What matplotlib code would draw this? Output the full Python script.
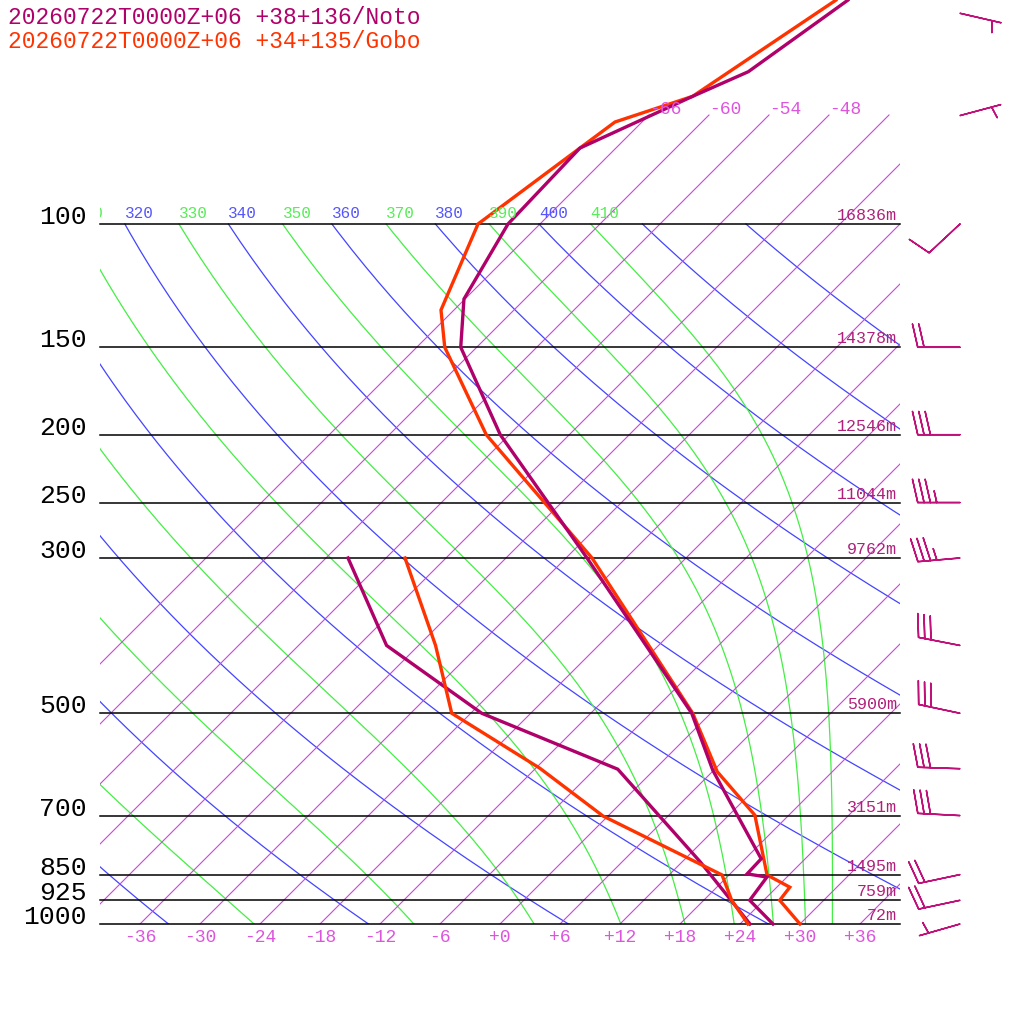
import numpy as np
import matplotlib
matplotlib.use('Agg')
import matplotlib.pyplot as plt
from matplotlib.patches import Rectangle

# ---- sounding data (hPa, degC) ----
noto_p = [1000, 925, 857, 848, 807, 603, 500, 300, 200, 150, 128, 100, 77.9, 65.7, 60.6, 47.9]
noto_t = [27.3, 22.6, 22.0, 19.7, 19.6, 5.9, -1.9, -27.9, -48.9, -61.6, -66.1, -69.2, -69.6, -63.5, -60.4, -57.6]
noto_td_p = [1000, 815, 601, 500, 400, 300]
noto_td = [25.0, 13.8, -3.7, -22.9, -39.2, -51.8]

gobo_p = [1000, 925, 886, 851, 699, 606, 500, 300, 200, 150, 132.7, 100, 77.9, 71.5, 65.7, 47.9]
gobo_t = [30.0, 25.6, 25.3, 21.8, 14.6, 6.5, -1.8, -27.4, -50.3, -63.2, -67.3, -72.2, -69.6, -68.7, -63.5, -58.8]
gobo_td_p = [1000, 925, 851, 701, 599, 500, 400, 300]
gobo_td = [24.8, 20.8, 17.3, -0.5, -11.6, -25.9, -34.3, -46.1]

levels = [100, 150, 200, 250, 300, 500, 700, 850, 925, 1000]
heights = ['16836m', '14378m', '12546m', '11044m', '9762m', '5900m', '3151m', '1495m', '759m', '72m']

wind_p = [50, 70, 100, 150, 200, 250, 300, 400, 500, 600, 700, 850, 925, 1000]
wind_dir = [103, 75, 227, 270, 270, 270, 265, 281, 282, 272, 273, 258, 258, 254]
wind_spd = [5, 5, 10, 20, 30, 35, 35, 30, 30, 30, 30, 20, 20, 5]

isotherms = list(range(-66, 37, 6))
dry_thetas = list(range(200, 441, 20))
moist_thetas = list(range(250, 411, 20))

C_NOTO = '#b0006a'
C_GOBO = '#ff3300'
C_ISO = '#cc44dd'
C_ISOLAB = '#dd55dd'
C_BLUE = '#4444ff'
C_GREEN = '#44ee44'
C_HGT = '#b0207a'
MONO = 'Liberation Mono'


def yp(p):
    return 924 - 700 * np.log10(1000.0 / np.asarray(p, dtype=float))


def xs(t, p):
    return 500 + 10 * np.asarray(t, dtype=float) + (924 - yp(p))


def theta_e_sat(tc, p):
    tk = tc + 273.15
    es = 6.112 * np.exp(17.67 * tc / (tc + 243.5))
    r = 622.0 * es / np.maximum(p - es, 1e-3)
    th = tk * (1000.0 / p) ** (0.2854 * (1 - 0.00028 * r))
    return th * np.exp((3.376 / tk - 0.00254) * r * (1 + 0.00081 * r))


def moist_adiabat(target, pres):
    lo = np.full(pres.shape, -130.0)
    hi = np.full(pres.shape, 50.0)
    for _ in range(50):
        mid = 0.5 * (lo + hi)
        f = theta_e_sat(mid, pres) > target
        hi = np.where(f, mid, hi)
        lo = np.where(f, lo, mid)
    return 0.5 * (lo + hi)


fig = plt.figure(figsize=(10.24, 10.24), dpi=100)
ax = fig.add_axes([0, 0, 1, 1])
ax.set_xlim(0, 1024)
ax.set_ylim(1024, 0)
ax.axis('off')

clip = Rectangle((100, 0), 800, 924, transform=ax.transData, fill=False, lw=0)
ax.add_patch(clip)

pp = np.linspace(1000, 100, 300)

for th in dry_thetas:
    t = th * (pp / 1000.0) ** 0.286 - 273.15
    ln, = ax.plot(xs(t, pp), yp(pp), color=C_BLUE, lw=0.9)
    ln.set_clip_path(clip)
for th in moist_thetas:
    t = moist_adiabat(th, pp)
    ln, = ax.plot(xs(t, pp), yp(pp), color=C_GREEN, lw=0.9)
    ln.set_clip_path(clip)

# theta labels at 100 hPa
for th in range(320, 420, 20):
    t = th * 0.1 ** 0.286 - 273.15
    ax.text(xs(t, 100), 213, str(th), color='#5555ff', fontsize=11.5,
            family=MONO, ha='left', va='center')
for th in range(310, 420, 20):
    t = moist_adiabat(th, np.array([100.0]))[0]
    tx = ax.text(xs(t, 100), 213, str(th), color='#55ee55', fontsize=11.5,
                 family=MONO, ha='left', va='center', clip_on=True)
    tx.set_clip_path(clip)

p_top = 1000 * 10 ** (-809 / 700.0)
for t in isotherms:
    ln, = ax.plot(xs([t, t], [1000, p_top]), yp([1000, p_top]), color=C_ISO, lw=0.8)
    ln.set_clip_path(clip)
for t in [-66, -60, -54, -48]:
    ax.text(xs(t, p_top), 110, '%+d' % t, color=C_ISOLAB, fontsize=13,
            family=MONO, ha='left', va='center')
for t in range(-36, 37, 6):
    lab = '+0' if t == 0 else '%+d' % t
    ax.text(xs(t, 1000), 937, lab, color=C_ISOLAB, fontsize=13,
            family=MONO, ha='center', va='center')

for p, h in zip(levels, heights):
    y = yp(p)
    ax.plot([100, 900], [y, y], color='black', lw=1.1)
    ax.text(87, y - 7, str(p), fontsize=19, family=MONO, ha='right', va='center')
    ax.text(897, y - 1, h, fontsize=12, family=MONO, color=C_HGT, ha='right', va='bottom')

for pr, tr, col in [(noto_td_p, noto_td, C_NOTO), (gobo_p, gobo_t, C_GOBO),
                    (gobo_td_p, gobo_td, C_GOBO), (noto_p, noto_t, C_NOTO)]:
    ax.plot(xs(tr, pr), yp(pr), color=col, lw=2.4, solid_joinstyle='miter')

d = np.radians(wind_dir)
u = -np.array(wind_spd) * np.sin(d)
v = -np.array(wind_spd) * np.cos(d)
ax.barbs(np.full(len(wind_p), 960.0), yp(wind_p), u, v, length=7.8,
         color='#c0107a', linewidth=1.1, sizes=dict(emptybarb=0, height=0.55, spacing=0.15))

ax.text(8, 17, '20260722T0000Z+06 +38+136/Noto', color=C_NOTO, fontsize=16.5,
        family=MONO, va='center')
ax.text(8, 41, '20260722T0000Z+06 +34+135/Gobo', color=C_GOBO, fontsize=16.5,
        family=MONO, va='center')

fig.savefig('out.png', dpi=100, facecolor='white')
